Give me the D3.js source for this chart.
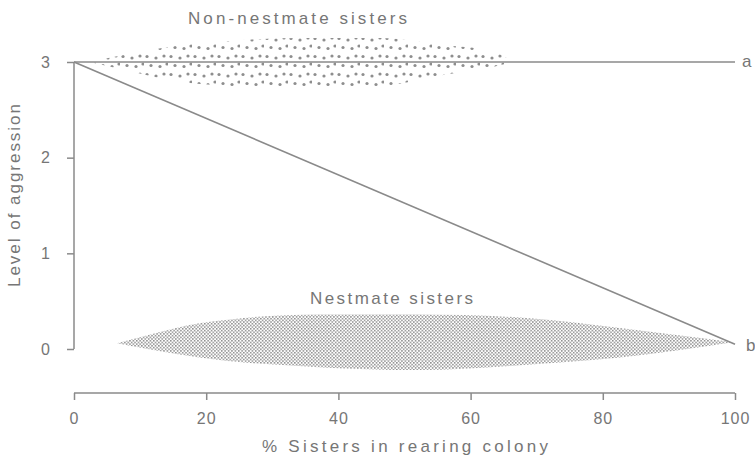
<!DOCTYPE html>
<html>
<head>
<meta charset="utf-8">
<script src="https://cdn.jsdelivr.net/npm/d3@7"></script>
<style>
  html, body { margin: 0; padding: 0; background: #fff; }
  svg { display: block; }
  text { font-family: "Liberation Sans", Arial, sans-serif; fill: #767676; }
</style>
</head>
<body>
<svg id="chart" width="755" height="457"></svg>
<script>
// Axis ticks
const xTicks = [0, 20, 40, 60, 80, 100];
const yTicks = [0, 1, 2, 3];

// Predicted aggression lines (x = % sisters in rearing colony)
const lineA = [[0, 3], [100, 3]];
const lineB = [[0, 3], [100, 0.05]];

// Non-nestmate sisters: spread of observed aggression (upper / lower bounds)
const nonNestX  = [2.4, 8, 14.5, 23.6, 34.2, 46.3, 55.4, 62.9, 66.4];
const nonNestHi = [3, 3.08, 3.16, 3.22, 3.25, 3.25, 3.18, 3.12, 3];
const nonNestLo = [3, 2.91, 2.81, 2.75, 2.73, 2.75, 2.86, 2.94, 3];

// Nestmate sisters
const nestX  = [6.5, 12, 19, 37, 52, 67.5, 82.6, 99.7];
const nestHi = [0.06, 0.16, 0.27, 0.36, 0.36, 0.33, 0.22, 0.07];
const nestLo = [0.06, -0.01, -0.09, -0.19, -0.22, -0.17, -0.09, 0.07];

const grey = "#8a8a8a";
const svg = d3.select("#chart");

const x = d3.scaleLinear().domain([0, 100]).range([74, 735]);
const y = d3.scaleLinear().domain([0, 3]).range([349, 62]);

// Stipple patterns: a loose hand-set dot tile and a fine screen
const defs = svg.append("defs");
const coarse = defs.append("pattern").attr("id", "coarse")
  .attr("patternUnits", "userSpaceOnUse").attr("width", 24).attr("height", 18);
[[3, 2.5], [12, 4], [20, 2], [7, 11.5], [16, 12.5], [23, 10]]
  .forEach(([cx, cy]) => coarse.append("circle")
    .attr("cx", cx).attr("cy", cy).attr("r", 1.6).attr("fill", "#8e8e8e"));

const fine = defs.append("pattern").attr("id", "fine")
  .attr("patternUnits", "userSpaceOnUse").attr("width", 3.4).attr("height", 3.4);
fine.append("rect").attr("x", 0).attr("y", 0).attr("width", 1.5).attr("height", 1.5).attr("fill", "#8a8a8a");
fine.append("rect").attr("x", 1.7).attr("y", 1.7).attr("width", 1.5).attr("height", 1.5).attr("fill", "#8a8a8a");

const band = d3.area()
  .x(d => x(d.x)).y0(d => y(d.lo)).y1(d => y(d.hi))
  .curve(d3.curveMonotoneX);

const nonNest = nonNestX.map((v, i) => ({ x: v, hi: nonNestHi[i], lo: nonNestLo[i] }));
const nest = nestX.map((v, i) => ({ x: v, hi: nestHi[i], lo: nestLo[i] }));

svg.append("path").attr("d", band(nonNest)).attr("fill", "url(#coarse)");
svg.append("path").attr("d", band(nest)).attr("fill", "url(#fine)");

// Y axis
const yAxis = svg.append("g").attr("transform", `translate(${x(0)},0)`)
  .call(d3.axisLeft(y).tickValues(yTicks).tickFormat(d3.format("d")).tickSize(7).tickPadding(17));
yAxis.select(".domain").attr("d", `M0,${y(3)}V${y(0)}`);

// X axis (detached below the plot)
const xAxis = svg.append("g").attr("transform", "translate(0,393)")
  .call(d3.axisBottom(x).tickValues(xTicks).tickSize(7).tickPadding(13));
xAxis.select(".domain").attr("d", `M${x(0)},0H${x(100)}`);

[yAxis, xAxis].forEach(g => {
  g.selectAll(".domain, .tick line").attr("stroke", grey).attr("stroke-width", 1.5);
  g.selectAll(".tick text").attr("font-size", 16).attr("fill", "#7a7a7a")
    .style("font-family", "'Liberation Sans', Arial, sans-serif");
});
xAxis.selectAll(".tick text").attr("letter-spacing", 1);

// Lines
const line = d3.line().x(d => x(d[0])).y(d => y(d[1]));
svg.append("path").attr("d", line(lineA)).attr("fill", "none")
  .attr("stroke", grey).attr("stroke-width", 1.6);
svg.append("path").attr("d", line(lineB)).attr("fill", "none")
  .attr("stroke", grey).attr("stroke-width", 1.6);

svg.append("text").attr("x", x(100) + 7).attr("y", y(3) + 5)
  .attr("font-size", 17).text("a");
svg.append("text").attr("x", x(100) + 11).attr("y", y(lineB[1][1]) + 7)
  .attr("font-size", 17).text("b");

// Band labels
svg.append("text").attr("x", 188).attr("y", 24).attr("font-size", 17)
  .attr("textLength", 219).attr("lengthAdjust", "spacing").text("Non-nestmate sisters");
svg.append("text").attr("x", 310).attr("y", 304).attr("font-size", 17)
  .attr("textLength", 163).attr("lengthAdjust", "spacing").text("Nestmate sisters");

// Axis titles
svg.append("text").attr("x", 262).attr("y", 452).attr("font-size", 17)
  .attr("textLength", 286).attr("lengthAdjust", "spacing").text("% Sisters in rearing colony");
svg.append("text").attr("transform", "translate(20,287) rotate(-90)").attr("font-size", 17)
  .attr("textLength", 183).attr("lengthAdjust", "spacing").text("Level of aggression");
</script>
</body>
</html>
